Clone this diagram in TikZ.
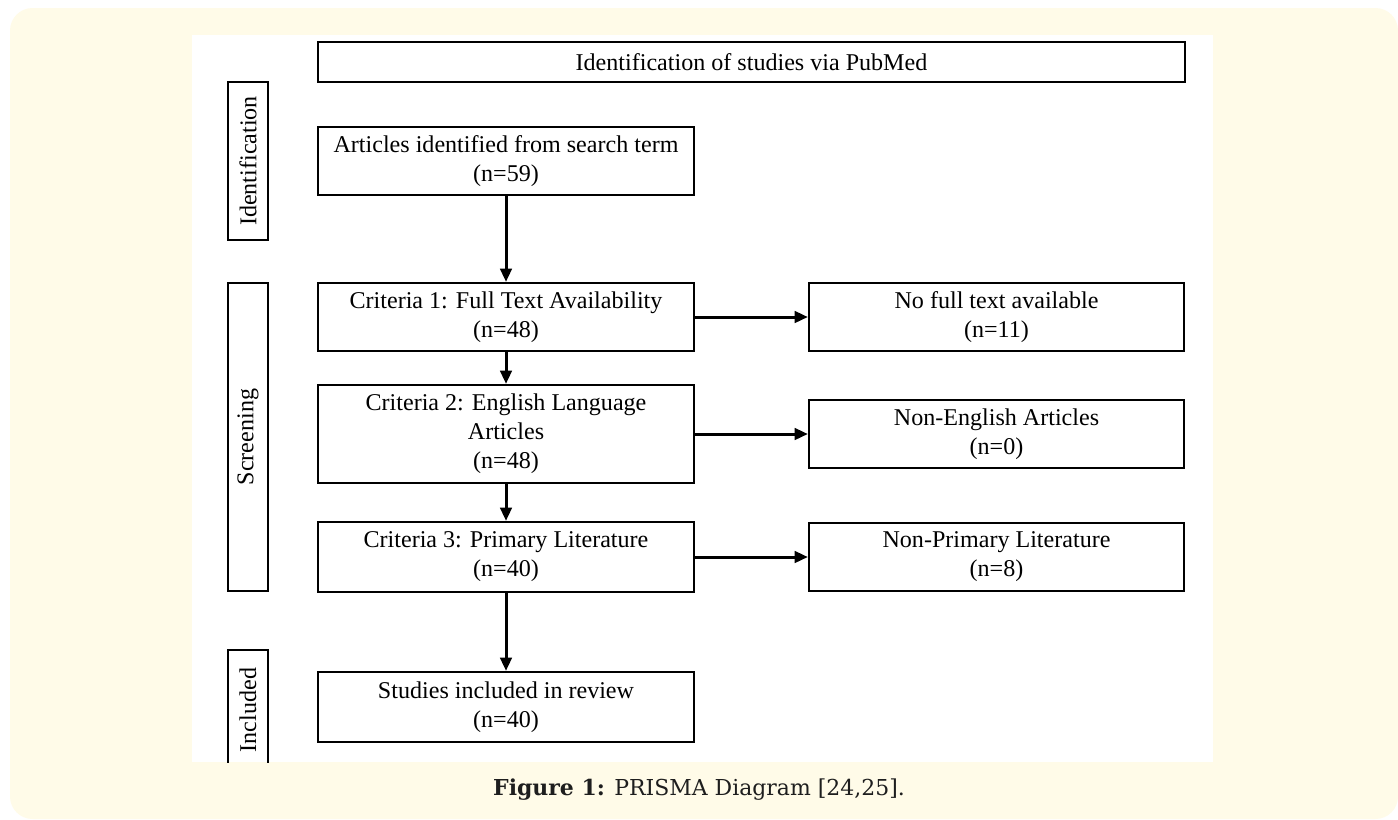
\documentclass[tikz,border=0pt]{standalone}
\usepackage{fontspec}
\setmainfont{Liberation Serif}
\newfontfamily\capfont{DejaVu Serif}
\usepackage{tikz}
\usetikzlibrary{positioning}
\usetikzlibrary{shapes,calc,arrows.meta}
\definecolor{creambg}{RGB}{255,251,232}
\definecolor{captext}{RGB}{30,30,30}

\begin{document}
\begin{tikzpicture}[x=0.02cm,y=-0.02cm,>={Triangle[length=7.5pt,width=6.5pt]},
  box/.style={draw,line width=1.3pt,align=center,font=\fontsize{13.7}{16.5}\selectfont,inner sep=2pt},
  left box/.style={box,minimum width=7.52cm,minimum height=1.36cm},
  right box/.style={box,minimum width=7.5cm,minimum height=1.36cm},
  side box/.style={box,rotate=90,minimum height=0.8cm,inner sep=0pt},
  flow/.style={->,line width=1.7pt}]
\useasboundingbox (0,0) rectangle (1398,819);
\fill[creambg, rounded corners=0.45cm] (10,8) rectangle (1398,819);
\fill[white] (192,35) rectangle (1213,762);
\begin{scope}
\clip (192,35) rectangle (1213,762);
\node[box,minimum width=17.34cm,minimum height=0.8cm] at (751.5,62) (head) {Identification of studies via PubMed};
\node[side box,minimum width=3.16cm] at (248,161) (sideid) {Identification};
\node[side box,minimum width=6.16cm] at (248,437) (sidescr) {Screening};
\node[side box,minimum width=2.4cm] at (248,710) (sideinc) {Included};
\node[left box] at (506,161) (found) {Articles identified from search term\\(n=59)};
\node[left box] at (506,317) (critone) {Criteria 1: Full Text Availability\\(n=48)};
\node[left box,minimum height=1.96cm] at (506,434) (crittwo) {Criteria 2: English Language\\Articles\\(n=48)};
\node[left box,minimum height=1.4cm] at (506,557) (critthree) {Criteria 3: Primary Literature\\(n=40)};
\node[left box,minimum height=1.4cm] at (506,707) (incl) {Studies included in review\\(n=40)};
\node[right box] at (996.5,317) (nofull) {No full text available\\(n=11)};
\node[right box] at (996.5,434) (noneng) {Non-English Articles\\(n=0)};
\node[right box] at (996.5,557) (noprim) {Non-Primary Literature\\(n=8)};
\draw[flow] (found) -- (critone);
\draw[flow] (critone) -- (crittwo);
\draw[flow] (crittwo) -- (critthree);
\draw[flow] (critthree) -- (incl);
\draw[flow] (critone) -- (nofull);
\draw[flow] (crittwo) -- (noneng);
\draw[flow] (critthree) -- (noprim);
\end{scope}
\node[font=\capfont\fontsize{12.5}{14}\selectfont,text=captext] at (699,790) (caption) {\textbf{Figure 1:} PRISMA Diagram [24,25].};
\end{tikzpicture}
\end{document}
